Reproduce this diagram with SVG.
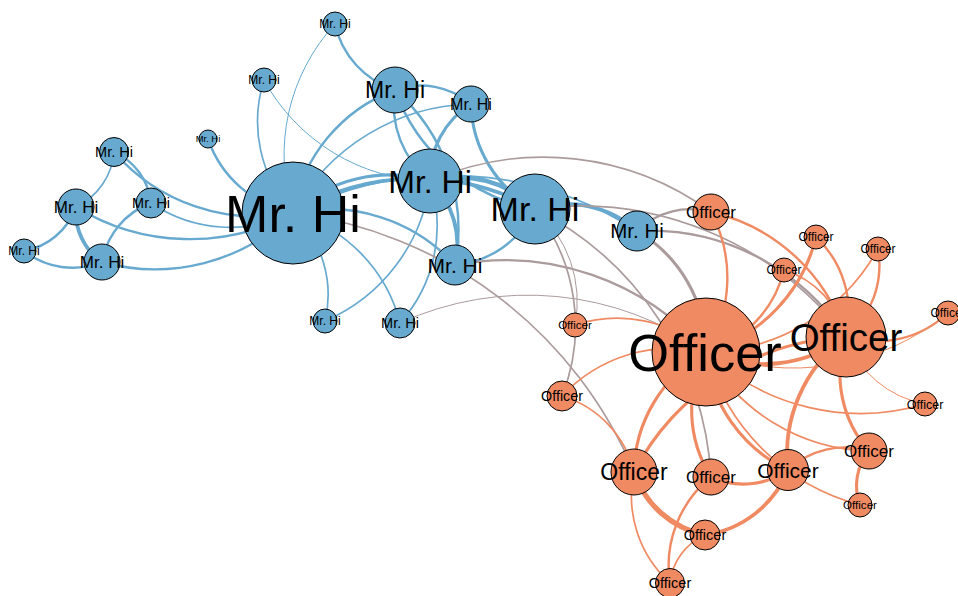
<svg xmlns="http://www.w3.org/2000/svg" width="958" height="596" viewBox="0 0 958 596">
<style>
.e{fill:none}
.b{stroke:#67a9cf}
.o{stroke:#ef8a62}
.g{stroke:#ab9b9c}
.w1{stroke-width:1}
.w2{stroke-width:1.7}
.w3{stroke-width:2.4}
.w4{stroke-width:3.1}
.w5{stroke-width:3.8}
.w6{stroke-width:4.5}
.w7{stroke-width:5.2}
.nb{fill:#67a9cf;stroke:#000;stroke-width:1}
.no{fill:#ef8a62;stroke:#000;stroke-width:1}
text{font-family:"Liberation Sans",Arial,sans-serif;text-anchor:middle;fill:#000}
</style>
<rect width="958" height="596" fill="#fff"/>
<g id="links" class="e">
<path class="b w4" d="M293 213 A140.7 140.7 0 0 1 430 181"/>
<path class="b w5" d="M293 213 A242 242 0 0 1 535 209"/>
<path class="b w3" d="M293 213 A159.8 159.8 0 0 1 395 90"/>
<path class="b w3" d="M293 213 A189.1 189.1 0 0 1 114 152"/>
<path class="b w3" d="M293 213 A197.2 197.2 0 0 1 102 262"/>
<path class="b w3" d="M293 213 A217.1 217.1 0 0 1 76 207"/>
<path class="b w2" d="M293 213 A208.7 208.7 0 0 1 471 104"/>
<path class="b w2" d="M293 213 A344.5 344.5 0 0 1 637 231"/>
<path class="b w2" d="M293 213 A142.4 142.4 0 0 1 151 203"/>
<path class="b w3" d="M293 213 A112.7 112.7 0 0 1 208 139"/>
<path class="b w1" d="M293 213 A193.6 193.6 0 0 1 335 24"/>
<path class="b w3" d="M293 213 A170.1 170.1 0 0 1 455 265"/>
<path class="b w2" d="M293 213 A136.1 136.1 0 0 1 264 80"/>
<path class="b w2" d="M293 213 A153.5 153.5 0 0 1 400 323"/>
<path class="b w2" d="M293 213 A112.6 112.6 0 0 1 325 321"/>
<path class="b w6" d="M430 181 A108.7 108.7 0 0 1 535 209"/>
<path class="b w3" d="M430 181 A97.5 97.5 0 0 1 395 90"/>
<path class="b w4" d="M430 181 A87.2 87.2 0 0 1 471 104"/>
<path class="b w5" d="M430 181 A87.6 87.6 0 0 1 455 265"/>
<path class="b w1" d="M430 181 A194.3 194.3 0 0 1 264 80"/>
<path class="b w2" d="M430 181 A145.1 145.1 0 0 1 400 323"/>
<path class="b w2" d="M430 181 A175 175 0 0 1 325 321"/>
<path class="b w3" d="M535 209 A183.7 183.7 0 0 1 395 90"/>
<path class="b w4" d="M535 209 A123 123 0 0 1 471 104"/>
<path class="b w5" d="M535 209 A104.3 104.3 0 0 1 637 231"/>
<path class="b w3" d="M535 209 A97.7 97.7 0 0 1 455 265"/>
<path class="b w3" d="M395 90 A77.3 77.3 0 0 1 471 104"/>
<path class="b w3" d="M395 90 A89.2 89.2 0 0 1 335 24"/>
<path class="b w3" d="M395 90 A185 185 0 0 1 455 265"/>
<path class="b w2" d="M114 152 A66.9 66.9 0 0 1 76 207"/>
<path class="b w3" d="M114 152 A63 63 0 0 1 151 203"/>
<path class="b w5" d="M102 262 A60.8 60.8 0 0 1 76 207"/>
<path class="b w3" d="M102 262 A76.7 76.7 0 0 1 151 203"/>
<path class="b w3" d="M102 262 A78.8 78.8 0 0 1 24 251"/>
<path class="b w3" d="M76 207 A68.1 68.1 0 0 1 24 251"/>
<path class="g w2" d="M293 213 A428.2 428.2 0 0 1 634 472"/>
<path class="g w2" d="M430 181 A282.7 282.7 0 0 1 711 212"/>
<path class="g w1" d="M535 209 A122.7 122.7 0 0 1 575 325"/>
<path class="g w2" d="M535 209 A320.6 320.6 0 0 1 711 477"/>
<path class="g w2" d="M535 209 A188.9 188.9 0 0 1 562 396"/>
<path class="g w2" d="M535 209 A336.3 336.3 0 0 1 846 337"/>
<path class="g w3" d="M637 231 A76.4 76.4 0 0 1 711 212"/>
<path class="g w3" d="M637 231 A234.3 234.3 0 0 1 846 337"/>
<path class="g w4" d="M637 231 A139.3 139.3 0 0 1 706 352"/>
<path class="g w3" d="M455 265 A265.6 265.6 0 0 1 706 352"/>
<path class="g w1" d="M400 323 A307.4 307.4 0 0 1 706 352"/>
<path class="o w2" d="M575 325 A133.8 133.8 0 0 1 706 352"/>
<path class="o w3" d="M878 249 A93.6 93.6 0 0 1 846 337"/>
<path class="o w2" d="M878 249 A200.5 200.5 0 0 1 706 352"/>
<path class="o w3" d="M816 237 A104.4 104.4 0 0 1 846 337"/>
<path class="o w4" d="M816 237 A159.1 159.1 0 0 1 706 352"/>
<path class="o w1" d="M925 404 A103.6 103.6 0 0 1 846 337"/>
<path class="o w2" d="M925 404 A225.1 225.1 0 0 1 706 352"/>
<path class="o w3" d="M948 313 A104.8 104.8 0 0 1 846 337"/>
<path class="o w1" d="M948 313 A245.1 245.1 0 0 1 706 352"/>
<path class="o w2" d="M784 270 A91.3 91.3 0 0 1 846 337"/>
<path class="o w3" d="M784 270 A113.2 113.2 0 0 1 706 352"/>
<path class="o w5" d="M788 470 A105.4 105.4 0 0 1 705 535"/>
<path class="o w4" d="M788 470 A77.3 77.3 0 0 1 711 477"/>
<path class="o w3" d="M788 470 A83.2 83.2 0 0 1 869 451"/>
<path class="o w5" d="M788 470 A145.1 145.1 0 0 1 846 337"/>
<path class="o w4" d="M788 470 A143.7 143.7 0 0 1 706 352"/>
<path class="o w2" d="M670 583 A59.4 59.4 0 0 1 705 535"/>
<path class="o w3" d="M670 583 A113.7 113.7 0 0 1 711 477"/>
<path class="o w2" d="M670 583 A116.7 116.7 0 0 1 634 472"/>
<path class="o w7" d="M705 535 A94.9 94.9 0 0 1 634 472"/>
<path class="o w4" d="M860 505 A54.7 54.7 0 0 1 869 451"/>
<path class="o w2" d="M860 505 A217.1 217.1 0 0 1 706 352"/>
<path class="o w4" d="M711 477 A125.1 125.1 0 0 1 706 352"/>
<path class="o w2" d="M562 396 A104.7 104.7 0 0 1 634 472"/>
<path class="o w2" d="M562 396 A150.6 150.6 0 0 1 706 352"/>
<path class="o w4" d="M869 451 A116.3 116.3 0 0 1 846 337"/>
<path class="o w2" d="M869 451 A190.7 190.7 0 0 1 706 352"/>
<path class="o w3" d="M711 212 A184 184 0 0 1 846 337"/>
<path class="o w3" d="M711 212 A140.1 140.1 0 0 1 706 352"/>
<path class="o w4" d="M634 472 A251.3 251.3 0 0 1 846 337"/>
<path class="o w4" d="M634 472 A139.9 139.9 0 0 1 706 352"/>
<path class="o w5" d="M846 337 A140.8 140.8 0 0 1 706 352"/>
</g>
<g id="n1"><circle class="nb" cx="293" cy="213" r="51"/><text x="293" y="213" dy="0.36em" font-size="52">Mr. Hi</text></g>
<g id="n2"><circle class="nb" cx="430" cy="181" r="32"/><text x="430" y="181" dy="0.36em" font-size="32">Mr. Hi</text></g>
<g id="n3"><circle class="nb" cx="535" cy="209" r="35"/><text x="535" y="209" dy="0.36em" font-size="34">Mr. Hi</text></g>
<g id="n4"><circle class="nb" cx="395" cy="90" r="23"/><text x="395" y="90" dy="0.36em" font-size="23">Mr. Hi</text></g>
<g id="n5"><circle class="nb" cx="114" cy="152" r="14.5"/><text x="114" y="152" dy="0.36em" font-size="14.5">Mr. Hi</text></g>
<g id="n6"><circle class="nb" cx="102" cy="262" r="18"/><text x="102" y="262" dy="0.36em" font-size="17">Mr. Hi</text></g>
<g id="n7"><circle class="nb" cx="76" cy="207" r="18"/><text x="76" y="207" dy="0.36em" font-size="17">Mr. Hi</text></g>
<g id="n8"><circle class="nb" cx="471" cy="104" r="18"/><text x="471" y="104" dy="0.36em" font-size="16">Mr. Hi</text></g>
<g id="n9"><circle class="nb" cx="637" cy="231" r="20"/><text x="637" y="231" dy="0.36em" font-size="20.5">Mr. Hi</text></g>
<g id="n10"><circle class="no" cx="575" cy="325" r="12"/><text x="575" y="325" dy="0.36em" font-size="11.5">Officer</text></g>
<g id="n11"><circle class="nb" cx="151" cy="203" r="15"/><text x="151" y="203" dy="0.36em" font-size="14.5">Mr. Hi</text></g>
<g id="n12"><circle class="nb" cx="208" cy="139" r="9"/><text x="208" y="139" dy="0.36em" font-size="9.4">Mr. Hi</text></g>
<g id="n13"><circle class="nb" cx="335" cy="24" r="12"/><text x="335" y="24" dy="0.36em" font-size="12">Mr. Hi</text></g>
<g id="n14"><circle class="nb" cx="455" cy="265" r="20"/><text x="455" y="265" dy="0.36em" font-size="21">Mr. Hi</text></g>
<g id="n15"><circle class="no" cx="878" cy="249" r="12"/><text x="878" y="249" dy="0.36em" font-size="12">Officer</text></g>
<g id="n16"><circle class="no" cx="816" cy="237" r="12"/><text x="816" y="237" dy="0.36em" font-size="12">Officer</text></g>
<g id="n17"><circle class="nb" cx="24" cy="251" r="12"/><text x="24" y="251" dy="0.36em" font-size="12">Mr. Hi</text></g>
<g id="n18"><circle class="nb" cx="264" cy="80" r="12"/><text x="264" y="80" dy="0.36em" font-size="12">Mr. Hi</text></g>
<g id="n19"><circle class="no" cx="925" cy="404" r="12"/><text x="925" y="404" dy="0.36em" font-size="12.5">Officer</text></g>
<g id="n20"><circle class="nb" cx="400" cy="323" r="15"/><text x="400" y="323" dy="0.36em" font-size="14.5">Mr. Hi</text></g>
<g id="n21"><circle class="no" cx="948" cy="313" r="12"/><text x="948" y="313" dy="0.36em" font-size="12">Officer</text></g>
<g id="n22"><circle class="nb" cx="325" cy="321" r="12"/><text x="325" y="321" dy="0.36em" font-size="12">Mr. Hi</text></g>
<g id="n23"><circle class="no" cx="784" cy="270" r="12"/><text x="784" y="270" dy="0.36em" font-size="12">Officer</text></g>
<g id="n24"><circle class="no" cx="788" cy="470" r="20.5"/><text x="788" y="470" dy="0.36em" font-size="21">Officer</text></g>
<g id="n25"><circle class="no" cx="670" cy="583" r="14.5"/><text x="670" y="583" dy="0.36em" font-size="14.5">Officer</text></g>
<g id="n26"><circle class="no" cx="705" cy="535" r="15"/><text x="705" y="535" dy="0.36em" font-size="14.5">Officer</text></g>
<g id="n27"><circle class="no" cx="860" cy="505" r="12"/><text x="860" y="505" dy="0.36em" font-size="11.6">Officer</text></g>
<g id="n28"><circle class="no" cx="711" cy="477" r="18"/><text x="711" y="477" dy="0.36em" font-size="17">Officer</text></g>
<g id="n29"><circle class="no" cx="562" cy="396" r="15"/><text x="562" y="396" dy="0.36em" font-size="14.3">Officer</text></g>
<g id="n30"><circle class="no" cx="869" cy="451" r="18"/><text x="869" y="451" dy="0.36em" font-size="17">Officer</text></g>
<g id="n31"><circle class="no" cx="711" cy="212" r="18"/><text x="711" y="212" dy="0.36em" font-size="17">Officer</text></g>
<g id="n32"><circle class="no" cx="634" cy="472" r="23"/><text x="634" y="472" dy="0.36em" font-size="23">Officer</text></g>
<g id="n33"><circle class="no" cx="846" cy="337" r="40"/><text x="846" y="337" dy="0.36em" font-size="38.5">Officer</text></g>
<g id="n34"><circle class="no" cx="706" cy="352" r="54"/><text x="705" y="352" dy="0.36em" font-size="52.5">Officer</text></g>
</svg>
